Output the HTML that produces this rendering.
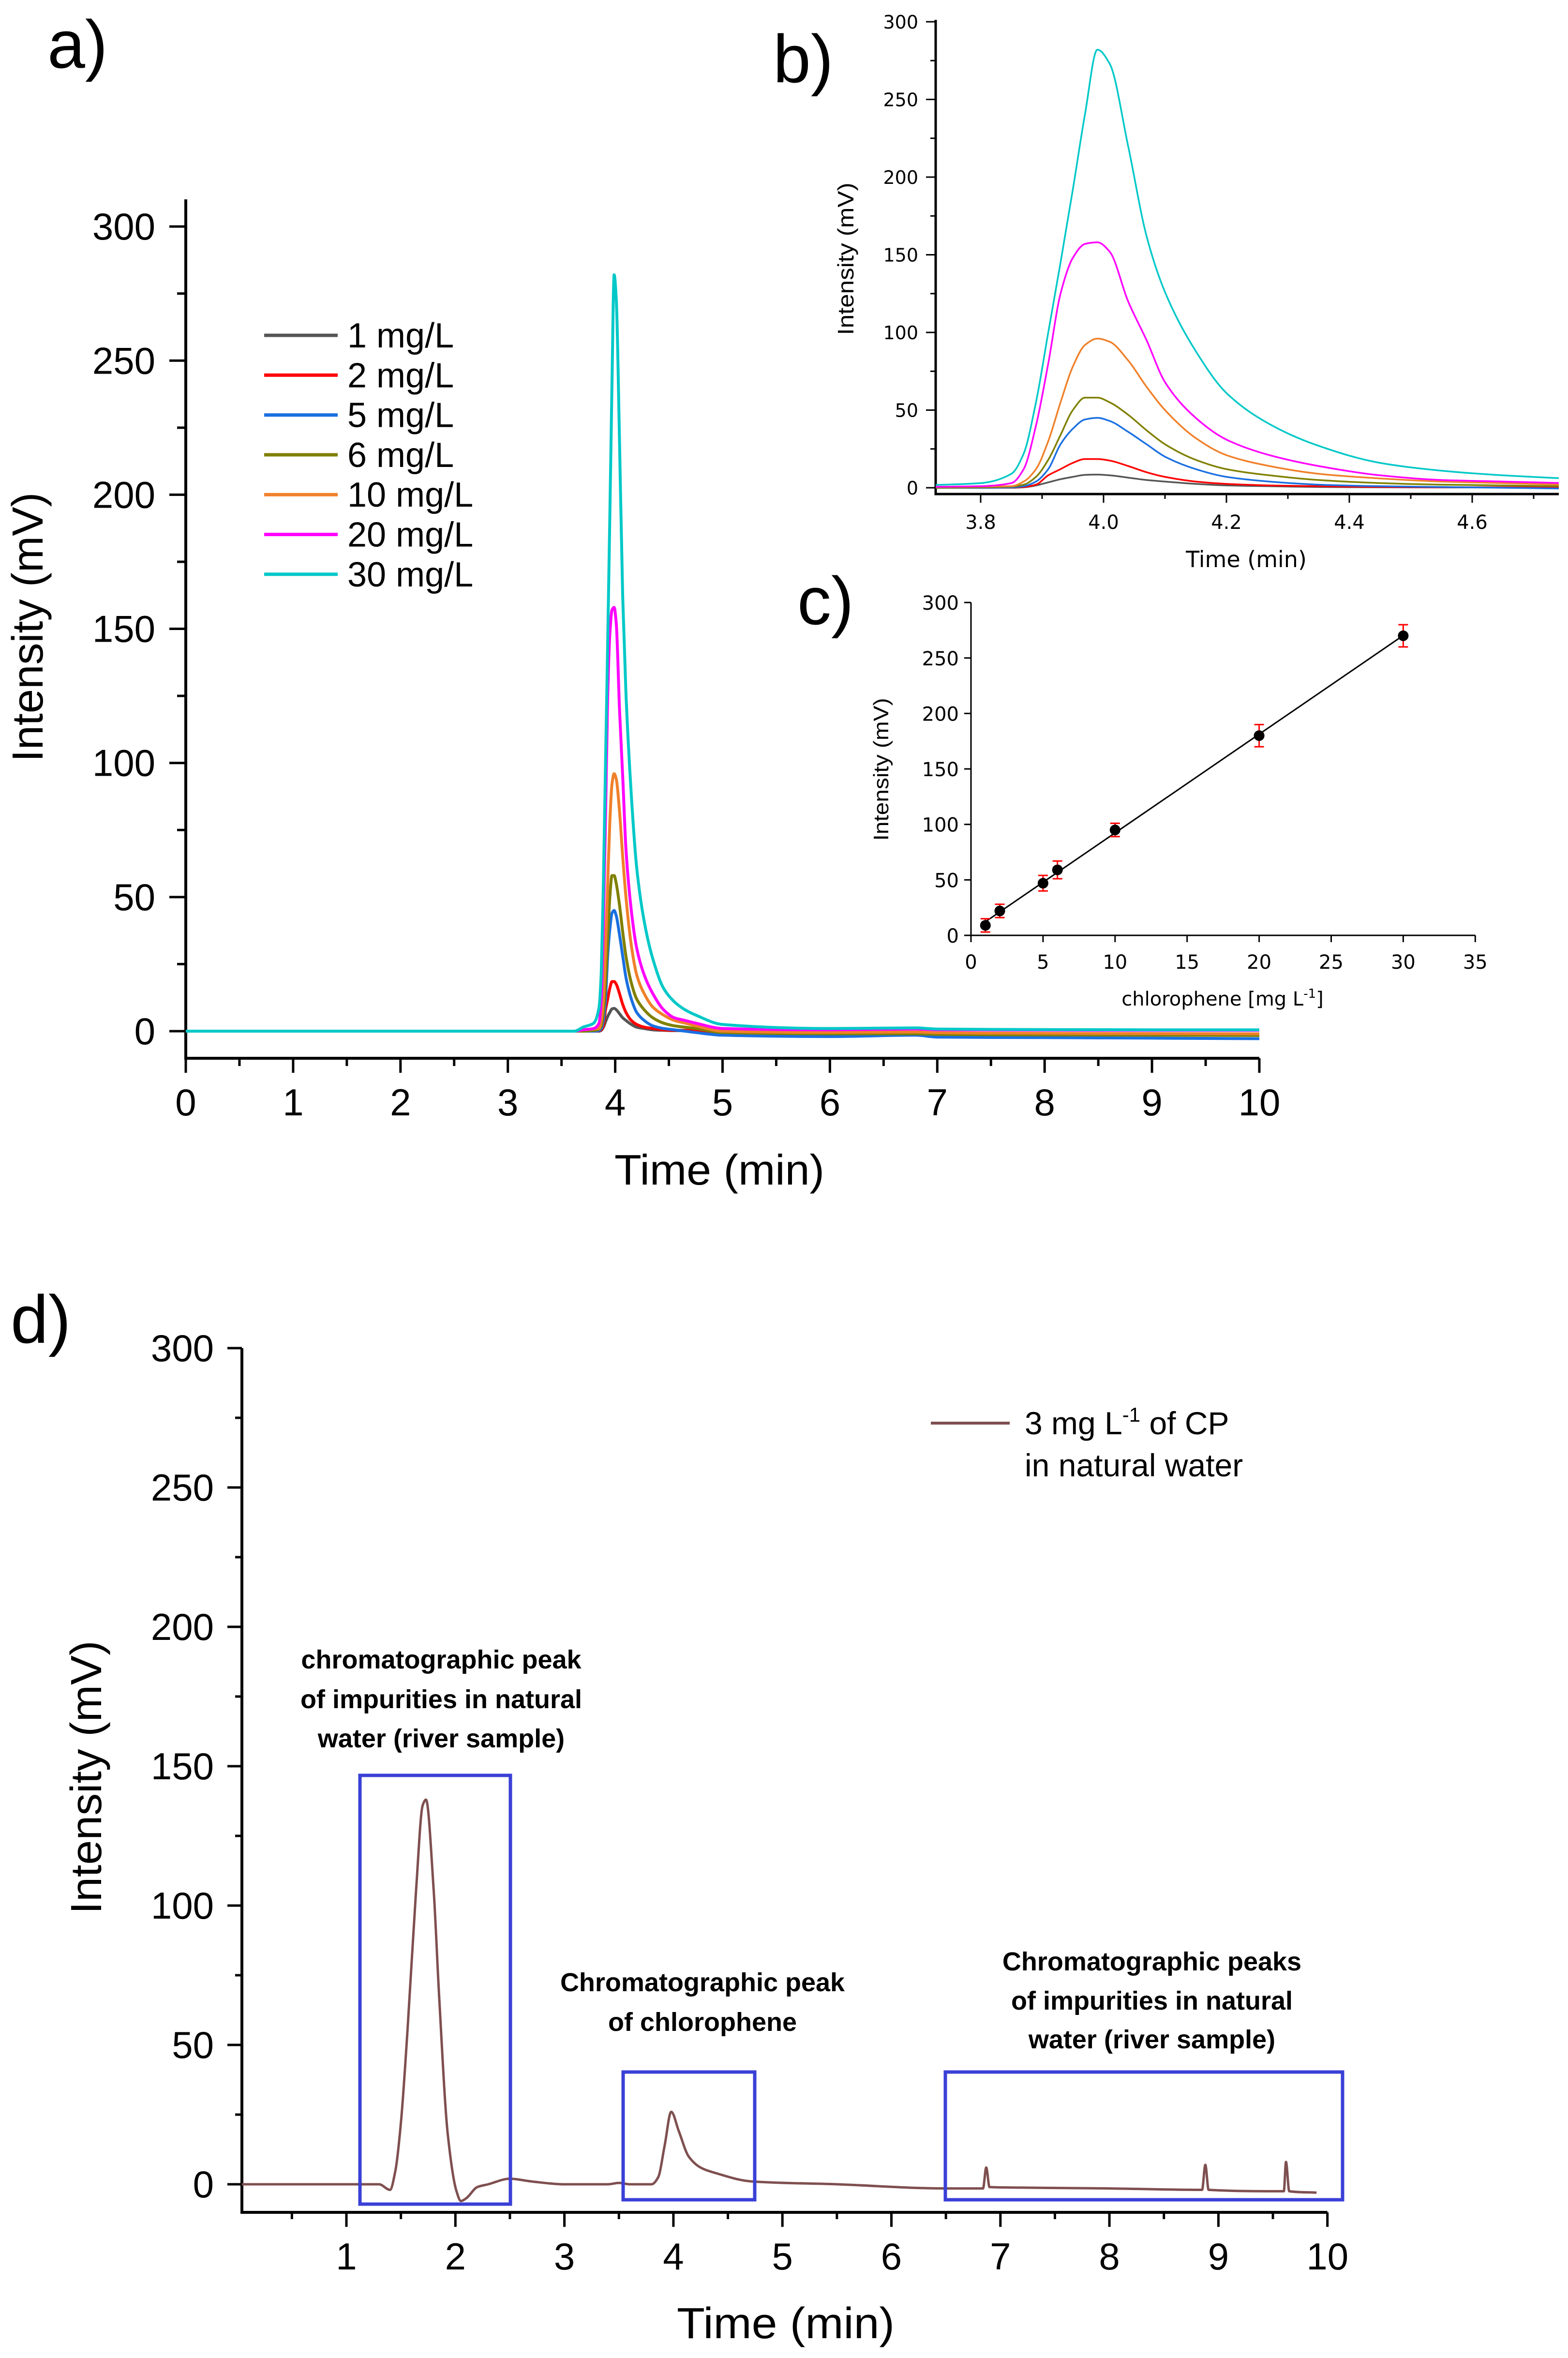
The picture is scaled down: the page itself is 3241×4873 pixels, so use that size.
<!DOCTYPE html>
<html><head><meta charset="utf-8"><title>Chlorophene chromatograms</title>
<style>
html,body{margin:0;padding:0;background:#fff;}
svg{display:block;}
.nar{font-family:"Liberation Sans Narrow","Liberation Sans",sans-serif;}
.dv{font-family:"DejaVu Sans","Liberation Sans",sans-serif;}
.lb{font-family:"Liberation Sans",sans-serif;}
.bold{font-family:"Liberation Sans",sans-serif;font-weight:bold;}
</style></head>
<body>
<svg id="fig" width="3241" height="4873" viewBox="0 0 3241 4873" xmlns="http://www.w3.org/2000/svg">
<rect x="0" y="0" width="3241" height="4873" fill="#fff"/>
<text x="98" y="140" font-size="140" class="lb">a)</text>
<text x="1598" y="170" font-size="140" class="lb">b)</text>
<text x="1648" y="1290" font-size="140" class="lb">c)</text>
<text x="22" y="2775" font-size="140" class="lb">d)</text>
<g id="pa"></g>
<g id="pb"></g>
<g id="pc"></g>
<g id="pd"></g>
</svg>
<script>
// ---- shared data (panels a & b) ----
var seriesNames = ["1 mg/L","2 mg/L","5  mg/L","6 mg/L","10 mg/L","20 mg/L","30 mg/L"];
var seriesColors = ["#555555","#ff0000","#1a6fe0","#808000","#f0802a","#ff00ff","#00c8c8"];
var peakTimes = [3.70,3.80,3.85,3.87,3.89,3.91,3.93,3.95,3.97,3.99,4.01,4.04,4.07,4.10,4.15,4.20,4.27,4.35,4.45,4.55,4.65,4.75];
var vGray    = [0,0,0,0.3,1.5,3.5,5.5,7,8.3,8.5,8,6.5,5,4,2.5,1.5,1,0.5,0.3,0.2,0.2,0.2];
var vRed     = [0,0,0.2,0.5,2,8,12,16,18.5,18.5,17.5,14,10,7,4,2.5,1.5,1,0.5,0.3,0.3,0.3];
var vBlue    = [0,0,0.3,1,4,12,28,38,44,45,43,36,28,20,12,7,4,2,1,0.5,0,-0.5];
var vOlive   = [0,0.3,0.8,2,7,18,34,50,58,58,55,47,37,28,18,12,8,5,3,2,1.5,1];
var vOrange  = [0.5,0.8,1,4,12,30,55,78,92,96,94,82,65,50,32,21,14,9,6,4,3,2];
var vMagenta = [0.5,1,3,12,40,80,125,148,157,158,152,120,95,68,45,31,21,14,8,5,4,3];
var vCyan    = [1.5,3,9,22,55,100,145,192,241,282,273,220,162,126,88,61,41,27,16,11,8,6];
var preTimes = [0,1,2,3,3.5,3.62];
var preValues = [0,0,0,0,0,0];
var postTimes = [5,6,6.8,7,8,9,10];
var postGray    = [-0.5,-1,-1,-1.2,-1.3,-1.5,-1.5];
var postRed     = [-0.3,-0.5,-0.5,-0.8,-1,-1,-1];
var postBlue    = [-1.5,-2,-1.5,-2.2,-2.4,-2.6,-2.8];
var postOlive   = [-0.5,-1,-1,-1.2,-1.4,-1.5,-1.6];
var postOrange  = [0,-0.5,-0.3,-0.6,-0.8,-0.9,-1];
var postMagenta = [1,0.5,0.8,0.5,0.4,0.3,0.3];
var postCyan    = [2.5,1,1.2,0.8,0.6,0.5,0.5];
var peakSets = [vGray,vRed,vBlue,vOlive,vOrange,vMagenta,vCyan];
var postSets = [postGray,postRed,postBlue,postOlive,postOrange,postMagenta,postCyan];
// ---- panel c data ----
var calConc = [1,2,5,6,10,20,30];
var calInt  = [9,22,47,59,95,180,270];
var calErr  = [6,6,7,8,6,10,10];
// ---- panel d data ----
var dTimes = [0.04,1.0,1.3,1.4,1.45,1.5,1.56,1.64,1.7,1.73,1.8,1.85,1.93,2.01,2.05,2.1,2.2,2.3,2.5,2.7,3.0,3.4,3.5,3.6,3.8,3.86,3.92,3.98,4.05,4.14,4.25,4.39,4.72,5.5,6.5,6.84,6.87,6.9,7.2,8.0,8.85,8.88,8.91,9.6,9.62,9.65,9.9];
var dValues = [0,0,0,-2,5,22,55,106,136,138,106,68,18,-2.5,-6,-5,-1,0,2,1,0,0,0.5,0,0,2.5,14,26,19,10,6,4,1,0,-1.5,-1.5,6,-1,-1.2,-1.5,-2,7,-2,-2.5,8,-2.5,-3];
// ---- tick labels ----
var aXTicks = [0,1,2,3,4,5,6,7,8,9,10];
var aYTicks = [0,50,100,150,200,250,300];
var bXTicks = ["3.8","4.0","4.2","4.4","4.6"];
var bYTicks = [0,50,100,150,200,250,300];
var cXTicks = [0,5,10,15,20,25,30,35];
var cYTicks = [0,50,100,150,200,250,300];
var dXTicks = [1,2,3,4,5,6,7,8,9,10];
var dYTicks = [0,50,100,150,200,250,300];

var NS="http://www.w3.org/2000/svg";
function mk(parent,tag,attrs,text){var e=document.createElementNS(NS,tag);for(var k in attrs)e.setAttribute(k,attrs[k]);if(text!==undefined)e.textContent=text;parent.appendChild(e);return e;}
// monotone cubic (Fritsch-Carlson) path, no overshoot
function smoothPath(pts){
  var n=pts.length,dx=[],sl=[],m=[];
  for(var i=0;i<n-1;i++){dx[i]=pts[i+1][0]-pts[i][0];sl[i]=(pts[i+1][1]-pts[i][1])/(dx[i]||1e-6);}
  m[0]=sl[0];m[n-1]=sl[n-2];
  for(i=1;i<n-1;i++){
    if(sl[i-1]*sl[i]<=0)m[i]=0;
    else{var w1=2*dx[i]+dx[i-1],w2=dx[i]+2*dx[i-1];m[i]=(w1+w2)/(w1/sl[i-1]+w2/sl[i]);}
  }
  var d="M"+pts[0][0].toFixed(1)+","+pts[0][1].toFixed(1);
  for(i=0;i<n-1;i++){
    var h=dx[i]/3;
    d+=" C"+(pts[i][0]+h).toFixed(1)+","+(pts[i][1]+m[i]*h).toFixed(1)+" "+(pts[i+1][0]-h).toFixed(1)+","+(pts[i+1][1]-m[i+1]*h).toFixed(1)+" "+pts[i+1][0].toFixed(1)+","+pts[i+1][1].toFixed(1);
  }
  return d;
}

// ================= Panel A =================
(function(){
  var g=document.getElementById('pa');
  function xa(t){return 384+t*221.9;}
  function ya(v){return 2131-v*5.543;}
  var ax=mk(g,'path',{d:"M"+xa(0)+","+412+" L"+xa(0)+","+2187+" L"+xa(10)+","+2187,stroke:"#000","stroke-width":6,fill:"none"});
  
  
  for(var v=0;v<=300;v+=25){
    var major=(v%50===0);
    var tk=mk(g,'line',{x1:xa(0),x2:xa(0)-(major?34:18),y1:ya(v),y2:ya(v),stroke:"#000","stroke-width":5});
    
    
  }
  aYTicks.forEach(function(v){
    var t=mk(g,'text',{x:321,y:ya(v)+27,"font-size":78,"text-anchor":"end","class":"nar"},String(v));
    
    
  });
  for(var i=0;i<=20;i++){
    var tm=i*0.5, major=(i%2===0);
    var tk2=mk(g,'line',{x1:xa(tm),x2:xa(tm),y1:2187,y2:2187+(major?30:16),stroke:"#000","stroke-width":5});
    
    
  }
  aXTicks.forEach(function(v){
    var t=mk(g,'text',{x:xa(v),y:2305,"font-size":78,"text-anchor":"middle","class":"nar"},String(v));
    
    
  });
  var yt=mk(g,'text',{x:0,y:0,"font-size":90,"text-anchor":"middle","class":"nar",transform:"translate(88,1296) rotate(-90)",textLength:557,lengthAdjust:"spacingAndGlyphs"},"Intensity (mV)");
  
  
  var xt=mk(g,'text',{x:1487,y:2448,"font-size":88,"text-anchor":"middle","class":"nar",textLength:434,lengthAdjust:"spacingAndGlyphs"},"Time (min)");
  
  
  for(var s=0;s<seriesNames.length;s++){
    var pts=[];
    preTimes.forEach(function(t,i){pts.push([xa(t),ya(preValues[i])]);});
    peakTimes.forEach(function(t,i){pts.push([xa(t),ya(peakSets[s][i])]);});
    postTimes.forEach(function(t,i){pts.push([xa(t),ya(postSets[s][i])]);});
    var p=mk(g,'path',{d:smoothPath(pts),stroke:seriesColors[s],"stroke-width":6,fill:"none","stroke-linejoin":"round"});
    
    
    var ly=693+s*82.3;
    var ll=mk(g,'line',{x1:546,x2:698,y1:ly,y2:ly,stroke:seriesColors[s],"stroke-width":7});
    
    
    var lt=mk(g,'text',{x:718,y:ly+25,"font-size":72,"class":"nar"},seriesNames[s]);
    
    
  }
})();

// ================= Panel B =================
(function(){
  var g=document.getElementById('pb');
  var X0=1934,X1=3222,Yb=1021,Yt=41;
  function xb(t){return 2027+(t-3.8)*1270;}
  function yb(v){return 1008-v*3.21;}
  var cp=mk(g,'clipPath',{id:"clipb"});
  mk(cp,'rect',{x:X0,y:0,width:X1-X0,height:Yb});
  var ax=mk(g,'path',{d:"M"+X0+","+Yt+" L"+X0+","+Yb+" L"+X1+","+Yb,stroke:"#000","stroke-width":5,fill:"none"});
  
  
  for(var v=0;v<=300;v+=25){
    var major=(v%50===0);
    var tk=mk(g,'line',{x1:X0,x2:X0-(major?20:11),y1:yb(v),y2:yb(v),stroke:"#000","stroke-width":3});
    
    
  }
  bYTicks.forEach(function(v){
    var t=mk(g,'text',{x:1898,y:yb(v)+14,"font-size":38,"text-anchor":"end","class":"dv"},String(v));
    
    
  });
  for(var i=0;i<=9;i++){
    var tm=3.8+i*0.1;
    if(xb(tm)>X1)break;
    var major=(i%2===0);
    var tk2=mk(g,'line',{x1:xb(tm),x2:xb(tm),y1:Yb,y2:Yb+(major?18:10),stroke:"#000","stroke-width":3});
    
    
  }
  bXTicks.forEach(function(v){
    var t=mk(g,'text',{x:xb(parseFloat(v)),y:1093,"font-size":40,"text-anchor":"middle","class":"dv"},v);
    
    
  });
  var yt=mk(g,'text',{x:0,y:0,"font-size":46,"text-anchor":"middle","class":"nar",transform:"translate(1764,535) rotate(-90)",textLength:315,lengthAdjust:"spacingAndGlyphs"},"Intensity (mV)");
  
  
  var xt=mk(g,'text',{x:2576,y:1172,"font-size":46,"text-anchor":"middle","class":"dv"},"Time (min)");
  
  
  for(var s=0;s<seriesNames.length;s++){
    var pts=peakTimes.map(function(t,i){return [xb(t),yb(peakSets[s][i])];});
    var p=mk(g,'path',{d:smoothPath(pts),stroke:seriesColors[s],"stroke-width":3.5,fill:"none","clip-path":"url(#clipb)"});
    
    
  }
})();

// ================= Panel C =================
(function(){
  var g=document.getElementById('pc');
  function xc(c){return 2007+c*29.78;}
  function yc(v){return 1933-v*2.293;}
  var ax=mk(g,'path',{d:"M"+xc(0)+","+yc(300)+" L"+xc(0)+","+yc(0)+" L"+xc(35)+","+yc(0),stroke:"#000","stroke-width":3,fill:"none"});
  
  
  cYTicks.forEach(function(v){
    var tk=mk(g,'line',{x1:xc(0),x2:xc(0)-14,y1:yc(v),y2:yc(v),stroke:"#000","stroke-width":3});
    
    
    var t=mk(g,'text',{x:1982,y:yc(v)+15,"font-size":40,"text-anchor":"end","class":"dv"},String(v));
    
    
  });
  cXTicks.forEach(function(v){
    var tk=mk(g,'line',{x1:xc(v),x2:xc(v),y1:yc(0),y2:yc(0)+14,stroke:"#000","stroke-width":3});
    
    
    var t=mk(g,'text',{x:xc(v),y:2002,"font-size":40,"text-anchor":"middle","class":"dv"},String(v));
    
    
  });
  var yt=mk(g,'text',{x:0,y:0,"font-size":44,"text-anchor":"middle","class":"nar",transform:"translate(1836,1590) rotate(-90)",textLength:295,lengthAdjust:"spacingAndGlyphs"},"Intensity (mV)");
  
  
  var xt=mk(g,'text',{x:2527,y:2078,"font-size":40,"text-anchor":"middle","class":"dv"});
  
  
  xt.appendChild(document.createTextNode("chlorophene [mg L"));
  mk(xt,'tspan',{dy:-16,"font-size":26},"-1");
  mk(xt,'tspan',{dy:16},"]");
  var n=calConc.length,sx=0,sy=0,sxx=0,sxy=0;
  for(var i=0;i<n;i++){sx+=calConc[i];sy+=calInt[i];sxx+=calConc[i]*calConc[i];sxy+=calConc[i]*calInt[i];}
  var m=(n*sxy-sx*sy)/(n*sxx-sx*sx), b=(sy-m*sx)/n;
  var c0=calConc[0],c1=calConc[n-1];
  var fl=mk(g,'line',{x1:xc(c0),y1:yc(m*c0+b),x2:xc(c1),y2:yc(m*c1+b),stroke:"#000","stroke-width":3});
  
  
  for(var j=0;j<n;j++){
    var x=xc(calConc[j]),y=yc(calInt[j]),e=calErr[j];
    var eb=mk(g,'path',{d:"M"+(x-10)+","+yc(calInt[j]+e)+" H"+(x+10)+" M"+x+","+yc(calInt[j]+e)+" V"+yc(calInt[j]-e)+" M"+(x-10)+","+yc(calInt[j]-e)+" H"+(x+10),stroke:"#ff0000","stroke-width":3,fill:"none"});
    
    
    var pt=mk(g,'circle',{cx:x,cy:y,r:11,fill:"#000"});
    
    
  }
})();

// ================= Panel D =================
(function(){
  var g=document.getElementById('pd');
  function xd(t){return 716+(t-1)*225.3;}
  function yd(v){return 4514-v*5.76;}
  var ax=mk(g,'path',{d:"M500,"+yd(300)+" L500,4572 L"+xd(10)+",4572",stroke:"#000","stroke-width":6,fill:"none"});
  
  
  for(var v=0;v<=300;v+=25){
    var major=(v%50===0);
    var tk=mk(g,'line',{x1:500,x2:500-(major?30:14),y1:yd(v),y2:yd(v),stroke:"#000","stroke-width":5});
    
    
  }
  dYTicks.forEach(function(v){
    var t=mk(g,'text',{x:442,y:yd(v)+27,"font-size":78,"text-anchor":"end","class":"nar"},String(v));
    
    
  });
  for(var i=1;i<=20;i++){
    var tm=i*0.5, major=(i%2===0);
    var tk2=mk(g,'line',{x1:xd(tm),x2:xd(tm),y1:4572,y2:4572+(major?30:14),stroke:"#000","stroke-width":5});
    
    
  }
  dXTicks.forEach(function(v){
    var t=mk(g,'text',{x:xd(v),y:4690,"font-size":78,"text-anchor":"middle","class":"nar"},String(v));
    
    
  });
  var yt=mk(g,'text',{x:0,y:0,"font-size":90,"text-anchor":"middle","class":"nar",transform:"translate(209,3673) rotate(-90)",textLength:565,lengthAdjust:"spacingAndGlyphs"},"Intensity (mV)");
  
  
  var xt=mk(g,'text',{x:1624,y:4832,"font-size":90,"text-anchor":"middle","class":"nar",textLength:450,lengthAdjust:"spacingAndGlyphs"},"Time (min)");
  
  
  var pts=dTimes.map(function(t,i){return [xd(t),yd(dValues[i])];});
  var p=mk(g,'path',{d:smoothPath(pts),stroke:"#7f4f4f","stroke-width":5,fill:"none","stroke-linejoin":"round"});
  
  
  var boxes=[[744,3669,311,886],[1288,4282,272,264],[1954,4282,821,264]];
  var bn=['box-impurity-peak-1','box-chlorophene-peak','box-impurity-peaks-2'];
  boxes.forEach(function(bx,k){
    var r=mk(g,'rect',{x:bx[0],y:bx[1],width:bx[2],height:bx[3],fill:"none",stroke:"#3a40d6","stroke-width":7});
    
    
  });
  var ann=[[912,3448,"chromatographic  peak"],[912,3530,"of impurities in natural"],[912,3611,"water (river sample)"],
           [1452,4115,"Chromatographic peak"],[1452,4197,"of chlorophene"],
           [2381,4072,"Chromatographic peaks"],[2381,4153,"of impurities in natural"],[2381,4233,"water (river sample)"]];
  ann.forEach(function(a){
    var t=mk(g,'text',{x:a[0],y:a[1],"font-size":54,"text-anchor":"middle","class":"bold"},a[2]);
    
    
  });
  var ll=mk(g,'line',{x1:1924,x2:2087,y1:2941,y2:2941,stroke:"#7f4f4f","stroke-width":6});
  
  
  var lt=mk(g,'text',{x:2118,y:2964,"font-size":66,"class":"nar"});
  
  
  lt.appendChild(document.createTextNode("3 mg L"));
  mk(lt,'tspan',{dy:-26,"font-size":42},"-1");
  mk(lt,'tspan',{dy:26}," of CP");
  var lt2=mk(g,'text',{x:2118,y:3051,"font-size":66,"class":"nar"},"in natural water");
  
  
})();
</script>
</body></html>
